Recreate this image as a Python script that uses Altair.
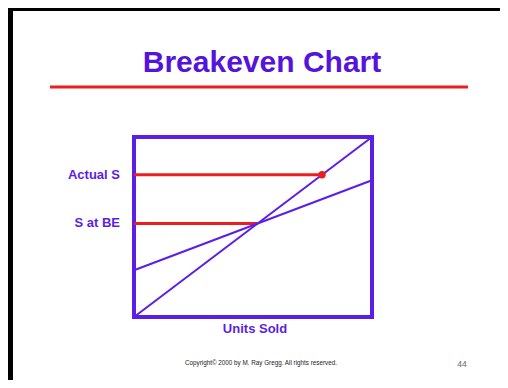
import altair as alt
import pandas as pd

# ---- data ----
units = [0, 100]
sales = [0, 100]
cost = [26, 76]
breakeven_units = 52
breakeven_sales = 52
actual_units = 79
actual_sales = 79

PURPLE = "#5a1ee6"
RED = "#ee1c1c"

W, H = 238, 180
PAD = {"left": 126, "top": 129, "right": 128, "bottom": 63}

xs = alt.Scale(domain=[0, 100], nice=False, zero=False)
ys = alt.Scale(domain=[0, 100], nice=False, zero=False)

lines_df = pd.DataFrame({
    "units": units + units,
    "value": sales + cost,
    "series": ["Sales"] * 2 + ["Cost"] * 2,
})

lines = alt.Chart(lines_df).mark_line(color=PURPLE, strokeWidth=2).encode(
    x=alt.X("units:Q", scale=xs, axis=None),
    y=alt.Y("value:Q", scale=ys, axis=None),
    detail="series:N",
)

refs_df = pd.DataFrame({
    "x0": [0, 0],
    "x1": [actual_units, breakeven_units],
    "y": [actual_sales, breakeven_sales],
    "label": ["Actual S", "S at BE"],
})

red_rules = alt.Chart(refs_df).mark_rule(color=RED, strokeWidth=3).encode(
    x=alt.X("x0:Q", scale=xs, axis=None),
    x2="x1:Q",
    y=alt.Y("y:Q", scale=ys, axis=None),
)

dot = alt.Chart(pd.DataFrame({"u": [actual_units], "s": [actual_sales]})).mark_circle(
    color=RED, size=55, opacity=1
).encode(
    x=alt.X("u:Q", scale=xs, axis=None),
    y=alt.Y("s:Q", scale=ys, axis=None),
)

ref_labels = alt.Chart(refs_df).mark_text(
    align="right", baseline="middle", font="Liberation Sans", fontWeight="bold",
    fontSize=13, color=PURPLE, dx=-14,
).encode(
    x=alt.value(0),
    y=alt.Y("y:Q", scale=ys, axis=None),
    text="label:N",
)

anno = pd.DataFrame({"k": [0]})

def txt(text, x, y, size, color, weight="normal", align="center", baseline="alphabetic"):
    return alt.Chart(anno).mark_text(
        text=text, align=align, baseline=baseline, font="Liberation Sans",
        fontWeight=weight, fontSize=size, color=color,
    ).encode(x=alt.value(x), y=alt.value(y))

title = txt("Breakeven Chart", 128, -65, 30, "#5514dc", weight="bold")
xlabel = txt("Units Sold", 121, 192, 13, PURPLE, weight="bold", baseline="middle")
copyright_t = txt("Copyright\u00a9 2000 by M. Ray Gregg.  All rights reserved.", 127, 226, 6.3, "#222222", baseline="middle")
page_no = txt("44", 328, 227, 8.5, "#666666", baseline="middle")

def rule(x, x2, y, y2, color, width):
    return alt.Chart(anno).mark_rule(color=color, strokeWidth=width).encode(
        x=alt.value(x), x2=alt.value(x2), y=alt.value(y), y2=alt.value(y2)
    )

underline = rule(-84, 334, -50, -50, RED, 3)
top_border = rule(-126, 366, -127.5, -127.5, "#000000", 3)
left_border = rule(-123.5, -123.5, -129, 243, "#000000", 5)

chart = alt.layer(
    top_border, left_border, title, underline,
    red_rules, lines, dot, ref_labels, xlabel, copyright_t, page_no,
).properties(
    width=W, height=H,
    autosize=alt.AutoSizeParams(type="none"),
    padding=PAD,
    background="white",
).configure_view(stroke=PURPLE, strokeWidth=4)

chart.save("out.html", embed_options={"renderer": "svg", "actions": False})
